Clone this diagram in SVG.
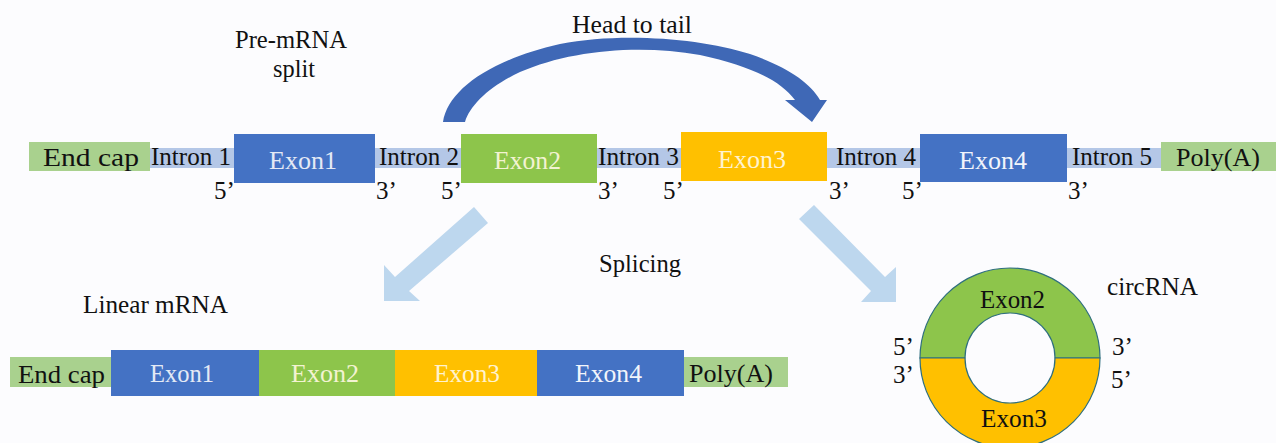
<svg xmlns="http://www.w3.org/2000/svg" width="1276" height="443" viewBox="0 0 1276 443">
<style>
text{font-family:'Liberation Serif','DejaVu Serif',serif;font-size:25px;fill:#111}
.blue{fill:#4472c4}
.green{fill:#8dc54b}
.orange{fill:#ffc000}
.cap{fill:#a9d18e}
.intron{fill:#b4c7e7}
.splice{fill:#bdd7ee}
text.w1{fill:#e4eaf5}
text.w2{fill:#f3f3d2}
text.w3{fill:#fff3cf}
text.w4{fill:#f2f5fb}
.ring{stroke:#2f6f7f;stroke-width:1.2}
</style>
<rect width="1276" height="443" fill="#fcfcfe"/>
<g id="labels">
<text x="235" y="48" textLength="112" lengthAdjust="spacingAndGlyphs">Pre-mRNA</text>
<text x="273" y="77" textLength="42" lengthAdjust="spacingAndGlyphs">split</text>
<text x="572" y="33" textLength="120" lengthAdjust="spacingAndGlyphs">Head to tail</text>
<text x="599" y="272" textLength="82" lengthAdjust="spacingAndGlyphs">Splicing</text>
<text x="83" y="313" textLength="145" lengthAdjust="spacingAndGlyphs">Linear mRNA</text>
<text x="1107" y="295" textLength="91" lengthAdjust="spacingAndGlyphs">circRNA</text>
</g>
<g id="premrna">
<rect class="intron" x="149" y="148" width="1013" height="20"/>
<g id="endcap1"><rect class="cap" x="29" y="142" width="121" height="29"/><text x="43" y="166" textLength="96" lengthAdjust="spacingAndGlyphs">End cap</text></g>
<g id="intron1"><text x="151" y="165" textLength="80" lengthAdjust="spacingAndGlyphs">Intron 1</text></g>
<g id="exon1"><rect class="blue" x="234" y="134" width="141" height="49"/><text class="w1" x="269" y="169" textLength="68" lengthAdjust="spacingAndGlyphs">Exon1</text></g>
<g id="intron2"><text x="379" y="165" textLength="80" lengthAdjust="spacingAndGlyphs">Intron 2</text></g>
<g id="exon2"><rect class="green" x="461" y="134" width="136" height="49"/><text class="w2" x="494" y="169" textLength="67" lengthAdjust="spacingAndGlyphs">Exon2</text></g>
<g id="intron3"><text x="598" y="165" textLength="81" lengthAdjust="spacingAndGlyphs">Intron 3</text></g>
<g id="exon3"><rect class="orange" x="681" y="132" width="146" height="49"/><text class="w3" x="718" y="168" textLength="68" lengthAdjust="spacingAndGlyphs">Exon3</text></g>
<g id="intron4"><text x="836" y="165" textLength="80" lengthAdjust="spacingAndGlyphs">Intron 4</text></g>
<g id="exon4"><rect class="blue" x="920" y="134" width="147" height="48"/><text class="w4" x="959" y="169" textLength="68" lengthAdjust="spacingAndGlyphs">Exon4</text></g>
<g id="intron5"><text x="1072" y="165" textLength="80" lengthAdjust="spacingAndGlyphs">Intron 5</text></g>
<g id="polya1"><rect class="cap" x="1161" y="142" width="115" height="29"/><text x="1176" y="166" textLength="84" lengthAdjust="spacingAndGlyphs">Poly(A)</text></g>
<g id="ends1">
<text x="214" y="199">5’</text><text x="376" y="199">3’</text>
<text x="441" y="199">5’</text><text x="598" y="199">3’</text>
<text x="663" y="199">5’</text><text x="829" y="199">3’</text>
<text x="902" y="199">5’</text><text x="1068" y="199">3’</text>
</g>
</g>
<g id="linear-mrna">
<g id="endcap2"><rect class="cap" x="10" y="357" width="101" height="30"/><text x="18" y="383" textLength="87" lengthAdjust="spacingAndGlyphs">End cap</text></g>
<g id="l-exon1"><rect class="blue" x="111" y="350" width="148" height="46"/><text class="w1" x="150" y="382" textLength="64" lengthAdjust="spacingAndGlyphs">Exon1</text></g>
<g id="l-exon2"><rect class="green" x="259" y="350" width="136" height="46"/><text class="w2" x="291" y="382" textLength="68" lengthAdjust="spacingAndGlyphs">Exon2</text></g>
<g id="l-exon3"><rect class="orange" x="395" y="350" width="142" height="46"/><text class="w3" x="434" y="382" textLength="66" lengthAdjust="spacingAndGlyphs">Exon3</text></g>
<g id="l-exon4"><rect class="blue" x="537" y="350" width="147" height="46"/><text class="w4" x="575" y="382" textLength="67" lengthAdjust="spacingAndGlyphs">Exon4</text></g>
<g id="polya2"><rect class="cap" x="684" y="357" width="104" height="30"/><text x="689" y="382" textLength="84" lengthAdjust="spacingAndGlyphs">Poly(A)</text></g>
</g>
<g id="circrna">
<path class="green ring" d="M920,358 A90,90 0 0 1 1100,358 L1055,358 A45,45 0 0 0 965,358 Z"/>
<path class="orange ring" d="M920,358 A90,90 0 0 0 1100,358 L1055,358 A45,45 0 0 1 965,358 Z"/>
<text x="980" y="308" textLength="65" lengthAdjust="spacingAndGlyphs">Exon2</text>
<text x="981" y="427" textLength="66" lengthAdjust="spacingAndGlyphs">Exon3</text>
<text x="893" y="355">5’</text><text x="893" y="383">3’</text>
<text x="1112" y="355">3’</text><text x="1111" y="388">5’</text>
</g>
<g id="connectors">
<path fill="#3f68b6" d="M443,122 C448,90 490,60 560,44 C620,32 700,38 750,54 C785,66 810,82 820,100 L827,100 L812,122 L785,100 L795,100 C780,80 750,66 700,55 C640,44 570,50 520,72 C490,86 470,105 465,122 Z"/>
<polygon class="splice" points="474,207 488,223 409,291 420,301 384,301 384,265 395,277"/>
<polygon class="splice" points="814,205 885,277 896,267 896,302 861,302 871,291 799,219"/>
</g>
</svg>
